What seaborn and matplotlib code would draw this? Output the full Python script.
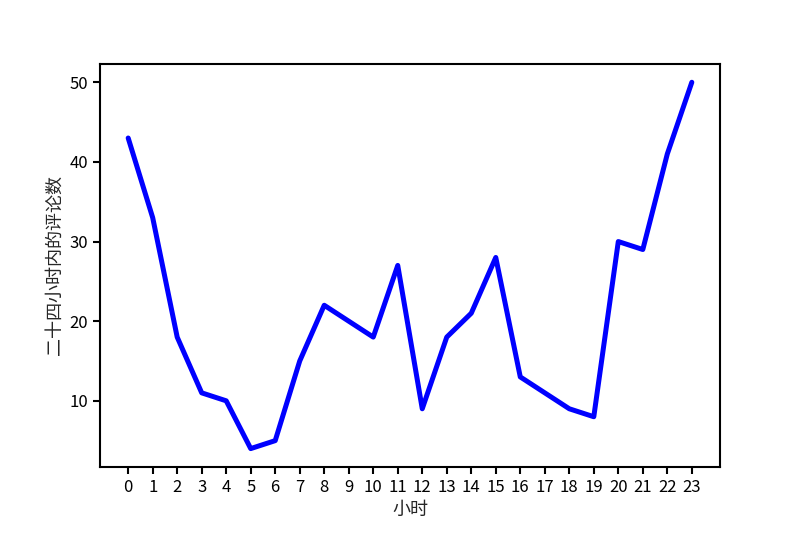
import matplotlib
matplotlib.use("Agg")
import matplotlib.pyplot as plt
import seaborn as sns
import pandas as pd

# ── Data ──────────────────────────────────────────────────────────────
hours = list(range(24))
comments = [43, 33, 18, 11, 10, 4, 5, 15, 22, 20, 18, 27,
            9, 18, 21, 28, 13, 11, 9, 8, 30, 29, 41, 50]

df = pd.DataFrame({"hour": hours, "count": comments})

sns.set_style("ticks")
plt.rcParams["font.family"] = ["Noto Sans CJK SC", "DejaVu Sans"]
plt.rcParams["axes.unicode_minus"] = False

fig, ax = plt.subplots(figsize=(8, 5.33), dpi=100)
fig.subplots_adjust(left=0.125, right=0.9, top=0.88, bottom=0.124)

sns.lineplot(data=df, x="hour", y="count", color="blue", linewidth=3.6, ax=ax)

ax.set_xticks(hours)
ax.set_xticklabels([str(h) for h in hours])
ax.set_yticks([10, 20, 30, 40, 50])
ax.tick_params(labelsize=12, width=1.5, length=5, colors="black")
for sp in ax.spines.values():
    sp.set_linewidth(1.5)
    sp.set_color("black")
ax.margins(x=0.05, y=0.05)

ax.set_xlabel("小时", fontsize=13)
ax.set_ylabel("二十四小时内的评论数", fontsize=13)

fig.savefig("out.png", dpi=100)
plt.close(fig)
